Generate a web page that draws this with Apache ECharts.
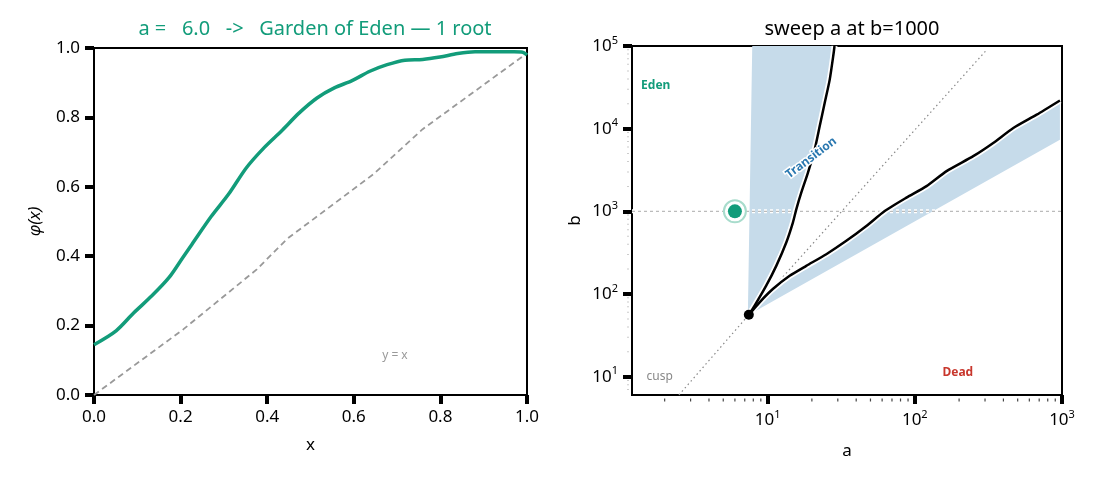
<!DOCTYPE html>
<html>
<head>
<meta charset="utf-8">
<script src="https://cdn.jsdelivr.net/npm/echarts@6/dist/echarts.min.js"></script>
<style>
html, body { margin: 0; padding: 0; background: #fff; }
#chart { width: 1100px; height: 480px; }
</style>
</head>
<body>
<div id="chart"></div>
<script>
// left panel: phi(x) for a = 6.0
var phiCurve = [
    [0.000, 0.145], [0.051, 0.185], [0.092, 0.237], [0.133, 0.285], [0.173, 0.338],
    [0.206, 0.398], [0.226, 0.434], [0.271, 0.515], [0.311, 0.579], [0.352, 0.655],
    [0.393, 0.713], [0.433, 0.761], [0.474, 0.813], [0.515, 0.856], [0.555, 0.885],
    [0.596, 0.906], [0.637, 0.933], [0.677, 0.952], [0.718, 0.965], [0.759, 0.967],
    [0.799, 0.974], [0.840, 0.984], [0.880, 0.989], [0.921, 0.989], [0.970, 0.989],
    [0.990, 0.988], [1.000, 0.980]
];
var identityLine = [[0, 0], [0.206, 0.189], [0.376, 0.362], [0.446, 0.450], [0.645, 0.636], [0.759, 0.766], [1.0, 0.985]];

// right panel: (a, b) plane, log-log
var aRange = [1.2, 1000];
var bRange = [6, 100000];
var sweepB = 1000;
var currentPoint = [6.0, 1000];
var cuspPoint = [7.46, 56];
var cuspLine = [[2.5, 6.0], [7.46, 56], [310, 91000]];
var upperBranch = [
    [7.46, 56], [8.17, 72.3], [9.79, 126], [11.46, 219], [13.4, 420], [14.86, 731],
    [15.67, 1057], [16.94, 1679], [18.79, 2924], [20.89, 5585], [22.59, 10670],
    [24.43, 20420], [26.42, 38900], [28.1, 81700], [28.5, 100000]
];
var lowerBranch = [
    [7.46, 56], [8.83, 79.4], [10.86, 114.8], [14.13, 166], [18.32, 219], [25.06, 303],
    [34.28, 440], [46.9, 665], [62.5, 1009], [87.7, 1462], [120.2, 2018], [164.4, 3062],
    [249.5, 4645], [341, 6714], [467, 10190], [673, 14760], [968, 21930]
];
var edenBandEdge = [[7.35, 60], [7.87, 100000]];
var deadBandEdge = [[7.46, 56], [968, 7360]];
var minorSteps = [2, 3, 4, 5, 6, 7, 8, 9];
var regionLabels = [
    { value: [1.74, 33400], text: 'Eden', color: '#129c7a' },
    { value: [196, 11.1], text: 'Dead', color: '#c8372d' },
    { value: [1.85, 10], text: 'cusp', color: '#888888' },
    { value: [19.8, 4440], text: 'Transition', color: '#2a78b0' }
];

var FONT = 'Noto Sans';
var GREEN = '#129c7a';

// shaded regions: one straight edge plus the matching branch, walked back
var edenBand = edenBandEdge.concat(upperBranch.slice().reverse());
var deadBand = deadBandEdge.concat(lowerBranch.slice().reverse());

function minorTicks(range) {
    var out = [];
    for (var e = Math.floor(Math.log10(range[0])); e < Math.log10(range[1]); e++) {
        minorSteps.forEach(function (m) {
            var v = m * Math.pow(10, e);
            if (v > range[0] && v < range[1]) out.push(v);
        });
    }
    return out;
}

function powLabel(v) {
    var e = Math.log10(v);
    var r = Math.round(e);
    if (Math.abs(e - r) > 1e-6) return '';
    return '{b|10}{s|' + r + '}';
}
var supRich = {
    b: { fontSize: 17, fontFamily: FONT, color: '#000', lineHeight: 22 },
    s: { fontSize: 11, fontFamily: FONT, color: '#000', verticalAlign: 'top', lineHeight: 22, padding: [0, 0, 10, 0] }
};

var axisCommon = {
    axisLine: { show: true, onZero: false, lineStyle: { color: '#000', width: 2 } },
    axisTick: { show: true, length: 9, lineStyle: { color: '#000', width: 4 } },
    splitLine: { show: false },
    nameTextStyle: { fontFamily: FONT, fontSize: 17, color: '#000' }
};

function polygonSeries(points, name) {
    return {
        type: 'custom', name: name, xAxisIndex: 1, yAxisIndex: 1, z: 1,
        data: [0],
        renderItem: function (params, api) {
            var pts = points.map(function (p) { return api.coord(p); });
            return {
                type: 'polygon',
                shape: { points: pts },
                style: { fill: '#c6dbea', stroke: null }
            };
        },
        clip: true, silent: true
    };
}

function lineOn(data, color, width, type, z, smooth) {
    return {
        type: 'line', xAxisIndex: 1, yAxisIndex: 1, data: data, symbol: 'none',
        smooth: smooth || false, lineStyle: { color: color, width: width, type: type || 'solid' }, z: z
    };
}

var chart = echarts.init(document.getElementById('chart'));
chart.setOption({
    animation: false,
    textStyle: { fontFamily: FONT },
    title: [{
        text: 'a =   6.0   ->   Garden of Eden \u2014 1 root',
        left: 310, top: 14, textAlign: 'center',
        textStyle: { color: GREEN, fontSize: 20, fontWeight: 'normal', fontFamily: FONT }
    }, {
        text: 'sweep a at b=1000',
        left: 847, top: 14, textAlign: 'center',
        textStyle: { color: '#000', fontSize: 20, fontWeight: 'normal', fontFamily: FONT }
    }],
    grid: [
        { left: 94, right: 573, top: 48, bottom: 85, show: true, borderColor: '#000', borderWidth: 2 },
        { left: 632, right: 38, top: 46, bottom: 85, show: true, borderColor: '#000', borderWidth: 2 }
    ],
    xAxis: [
        Object.assign({}, axisCommon, {
            gridIndex: 0, type: 'value', min: 0, max: 1, interval: 0.2,
            name: 'x', nameLocation: 'middle', nameGap: 42,
            axisLabel: { fontSize: 17, color: '#000', margin: 14, fontFamily: FONT,
                formatter: function (v) { return v.toFixed(1); } }
        }),
        Object.assign({}, axisCommon, {
            gridIndex: 1, type: 'log', logBase: 10, min: aRange[0], max: aRange[1],
            name: 'a', nameLocation: 'middle', nameGap: 48,
            axisLabel: { color: '#000', margin: 14, formatter: powLabel, rich: supRich, showMinLabel: false }
        })
    ],
    yAxis: [
        Object.assign({}, axisCommon, {
            gridIndex: 0, type: 'value', min: 0, max: 1, interval: 0.2,
            name: '\u03c6(x)', nameLocation: 'middle', nameGap: 50,
            nameTextStyle: { fontFamily: FONT, fontSize: 17, color: '#000', fontStyle: 'italic' },
            axisLabel: { fontSize: 17, color: '#000', margin: 14, fontFamily: FONT,
                formatter: function (v) { return v.toFixed(1); } }
        }),
        Object.assign({}, axisCommon, {
            gridIndex: 1, type: 'log', logBase: 10, min: bRange[0], max: bRange[1],
            name: 'b', nameLocation: 'middle', nameGap: 48,
            axisLabel: { color: '#000', margin: 14, formatter: powLabel, rich: supRich, showMinLabel: false }
        })
    ],
    series: [
        // left panel
        {
            type: 'line', xAxisIndex: 0, yAxisIndex: 0, data: identityLine, symbol: 'none',
            lineStyle: { color: '#999', width: 1.8, type: [6, 4] }, z: 2
        },
        {
            type: 'line', xAxisIndex: 0, yAxisIndex: 0, data: phiCurve, symbol: 'none', smooth: 0.3,
            lineStyle: { color: GREEN, width: 3.5 }, z: 3
        },
        {
            type: 'scatter', xAxisIndex: 0, yAxisIndex: 0, symbolSize: 0, itemStyle: { opacity: 1 },
            data: [{ value: [0.695, 0.115], name: 'y = x' }],
            label: { show: true, position: 'inside', formatter: '{b}', color: '#999', fontSize: 12, fontFamily: FONT }
        },
        // right panel
        polygonSeries(edenBand, 'edenBand'),
        polygonSeries(deadBand, 'deadBand'),
        lineOn([[aRange[0], sweepB], [aRange[1], sweepB]], '#fff', 4, [3, 3], 2),
        lineOn([[aRange[0], sweepB], [aRange[1], sweepB]], '#bbb', 1.2, [3, 3], 3),
        lineOn(cuspLine, '#888', 1.2, [1.5, 3], 3),
        lineOn(upperBranch, '#fff', 6, 'solid', 4, 0.2),
        lineOn(lowerBranch, '#fff', 6, 'solid', 4, 0.2),
        lineOn(upperBranch, '#000', 2.5, 'solid', 5, 0.2),
        lineOn(lowerBranch, '#000', 2.5, 'solid', 5, 0.2),
        {
            // minor ticks on the log axes
            type: 'scatter', xAxisIndex: 1, yAxisIndex: 1, clip: false, silent: true, z: 6,
            data: minorTicks(aRange).map(function (v) {
                return { value: [v, bRange[0]], symbol: 'rect', symbolSize: [1.2, 3], symbolOffset: [0, 5],
                    itemStyle: { color: '#444', opacity: 1 } };
            }).concat(minorTicks(bRange).map(function (v) {
                return { value: [aRange[0], v], symbol: 'rect', symbolSize: [2, 1], symbolOffset: [-4, 0],
                    itemStyle: { color: '#ccc', opacity: 1 } };
            }))
        },
        {
            type: 'scatter', xAxisIndex: 1, yAxisIndex: 1, data: [cuspPoint], symbolSize: 10,
            itemStyle: { color: '#000', opacity: 1 }, z: 6
        },
        {
            type: 'scatter', xAxisIndex: 1, yAxisIndex: 1, z: 6,
            data: [
                { value: currentPoint, symbolSize: 22, itemStyle: { color: '#fff', borderColor: '#a8dccc', borderWidth: 2, opacity: 1 } },
                { value: currentPoint, symbolSize: 14, itemStyle: { color: GREEN, opacity: 1 } }
            ]
        },
        {
            type: 'scatter', xAxisIndex: 1, yAxisIndex: 1, symbolSize: 0, z: 7,
            itemStyle: { opacity: 1 },
            data: regionLabels.map(function (d) {
                var isTrans = d.text === 'Transition';
                return {
                    value: d.value, name: d.text,
                    label: {
                        show: true, position: 'inside', formatter: '{b}', color: d.color,
                        fontSize: 12, fontWeight: d.text === 'cusp' ? 'normal' : 'bold',
                        fontFamily: FONT, rotate: isTrans ? 37 : 0,
                        textBorderColor: isTrans ? '#fff' : 'transparent', textBorderWidth: isTrans ? 3 : 0
                    }
                };
            })
        }
    ]
});
</script>
</body>
</html>
